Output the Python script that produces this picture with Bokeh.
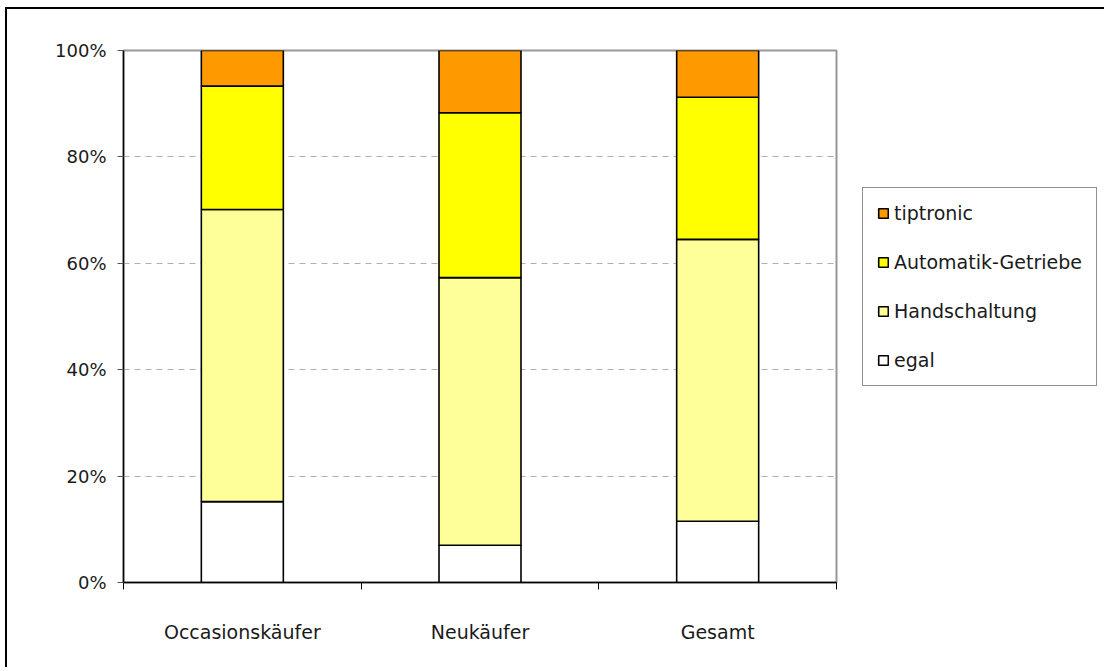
from bokeh.plotting import figure
from bokeh.models import (Range1d, FixedTicker, NumeralTickFormatter, Legend, LegendItem,
                          ColumnDataSource, InlineStyleSheet)
from bokeh.embed import file_html
from bokeh.resources import INLINE

categories = ["Occasionskäufer", "Neukäufer", "Gesamt"]
series = ["egal", "Handschaltung", "Automatik-Getriebe", "tiptronic"]
egal = [0.152, 0.070, 0.115]
handschaltung = [0.549, 0.503, 0.530]
automatik = [0.232, 0.310, 0.267]
tiptronic = [0.067, 0.117, 0.088]
colors = ["#FFFFFF", "#FFFF99", "#FFFF00", "#FF9900"]
y_ticks = [0, 0.2, 0.4, 0.6, 0.8, 1.0]

FONT = "DejaVu Sans"
TXT = "#1a1a1a"

xs = [i + 0.5 for i in range(len(categories))]
source = ColumnDataSource(dict(x=xs, **{series[0]: egal, series[1]: handschaltung,
                                        series[2]: automatik, series[3]: tiptronic}))

p = figure(output_backend="svg", toolbar_location=None,
           frame_width=713, frame_height=532,
           min_border_left=123, min_border_right=262, min_border_top=50, min_border_bottom=85,
           x_range=Range1d(0, len(categories)), y_range=Range1d(0, 1))
p.background_fill_color = "white"
p.border_fill_color = "white"
p.outline_line_color = "#999999"
p.outline_line_width = 2

renderers = p.vbar_stack(series, x="x", width=0.345, source=source,
                         fill_color=colors, line_color="black", line_width=1.6)

# grid
p.xgrid.visible = False
p.ygrid.grid_line_color = "#b0b0b0"
p.ygrid.grid_line_dash = "6 5"
p.ygrid.grid_line_width = 1
p.ygrid.ticker = FixedTicker(ticks=y_ticks[1:-1])

# y axis
ya = p.yaxis[0]
ya.ticker = FixedTicker(ticks=y_ticks)
ya.formatter = NumeralTickFormatter(format="0%")
ya.axis_line_color = "black"
ya.axis_line_width = 1.5
ya.major_tick_out = 6
ya.major_tick_in = 0
ya.major_tick_line_color = "#555555"
ya.minor_tick_line_color = None
ya.major_label_standoff = 11
ya.major_label_text_font = FONT
ya.major_label_text_font_size = "18px"
ya.major_label_text_color = TXT

# x axis: labels at centres, ticks at category boundaries
xa = p.xaxis[0]
xa.ticker = FixedTicker(ticks=xs, minor_ticks=list(range(len(categories) + 1)))
xa.major_label_overrides = {x: c for x, c in zip(xs, categories)}
xa.axis_line_color = "black"
xa.axis_line_width = 1.5
xa.major_tick_line_color = None
xa.major_tick_out = 0
xa.major_tick_in = 0
xa.minor_tick_out = 7
xa.minor_tick_in = 0
xa.minor_tick_line_color = "black"
xa.minor_tick_line_width = 1
xa.major_label_standoff = 31
xa.major_label_text_font = FONT
xa.major_label_text_font_size = "19px"
xa.major_label_text_color = TXT

items = [LegendItem(label=s, renderers=[r]) for s, r in zip(series, renderers)][::-1]
legend = Legend(items=items, location=(26, 196))
legend.border_line_color = "#222222"
legend.border_line_width = 1
legend.background_fill_color = "white"
legend.background_fill_alpha = 1
legend.padding = 14
legend.spacing = 27
legend.margin = 0
legend.glyph_width = 12
legend.glyph_height = 12
legend.label_height = 22
legend.label_standoff = 5
legend.label_text_font = FONT
legend.label_text_font_size = "19px"
legend.label_text_color = TXT
legend.label_text_baseline = "middle"
p.add_layout(legend, "right")

# outer chart border (top and left edges visible, as in the reference)
p.stylesheets = [InlineStyleSheet(css="""
:host { position: relative; }
:host::after { content: ""; position: absolute; left: 5px; top: 7px; right: 0; bottom: 0;
  border-left: 2px solid black; border-top: 2px solid black; pointer-events: none; }
""")]

open("out.html", "w").write(file_html(p, INLINE))
